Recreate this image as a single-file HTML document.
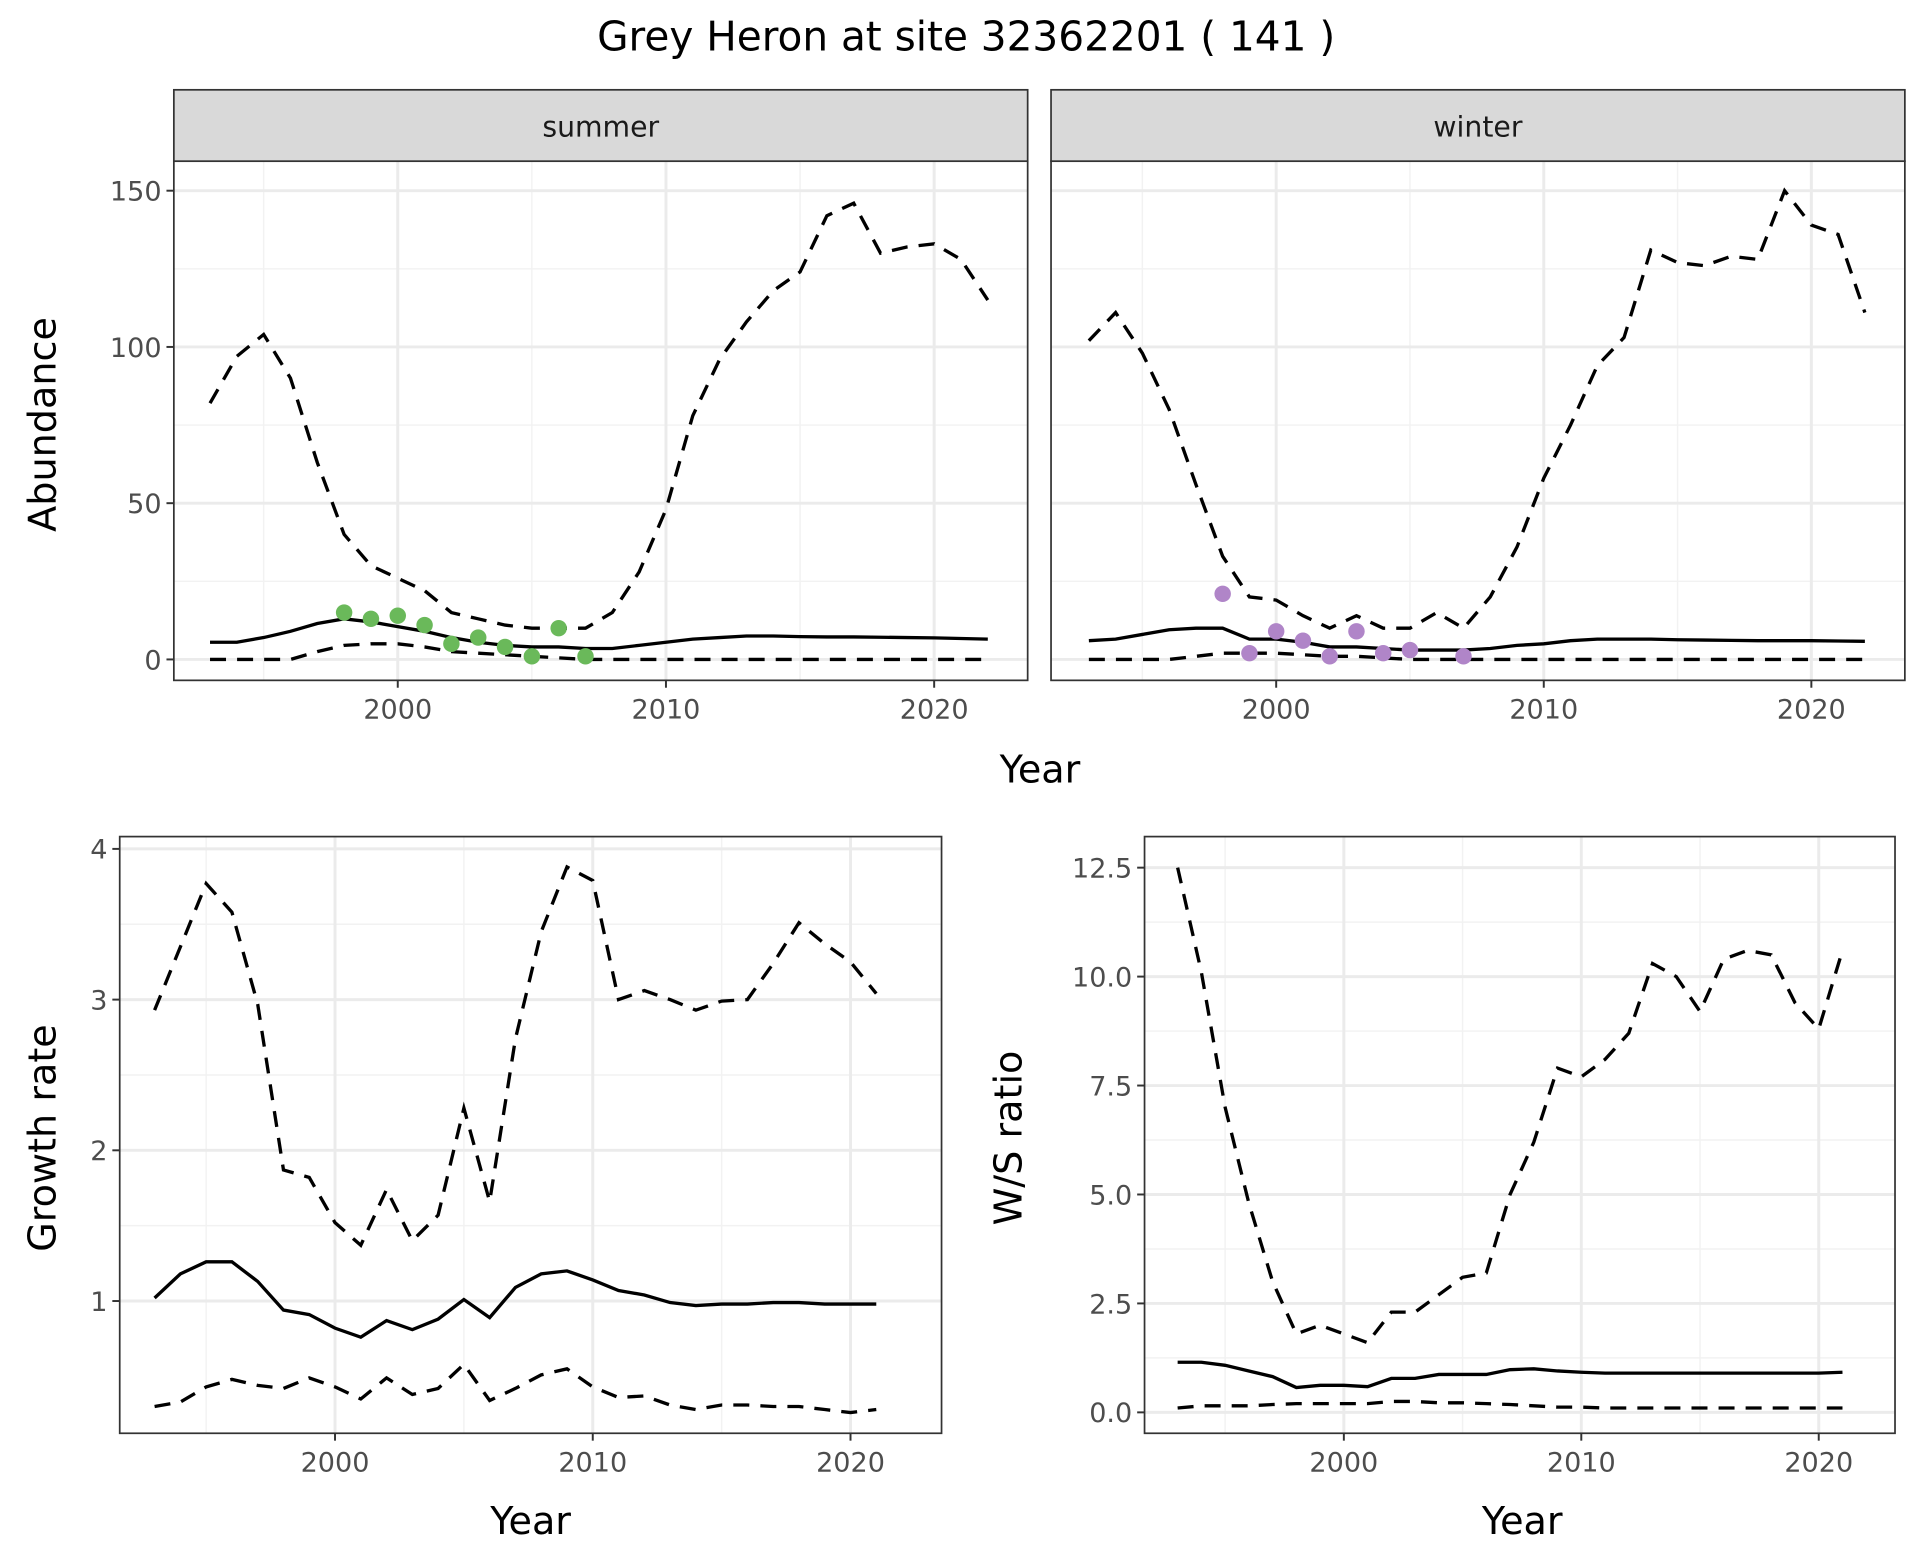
<!DOCTYPE html>
<html><head><meta charset="utf-8"><style>html,body{margin:0;padding:0;background:#fff}svg{display:block}</style></head>
<body>
<svg id="s" xmlns="http://www.w3.org/2000/svg" width="1920" height="1560" viewBox="0 0 1560 1268" font-family="'DejaVu Sans','Liberation Sans',sans-serif">
<rect width="1560" height="1268" fill="#fff"/>
<text x="785" y="41" font-size="33" text-anchor="middle" fill="#000">Grey Heron at site 32362201 ( 141 )</text>
<g id="g"></g>
</svg>
<script>
const g=document.getElementById('g');let h='';
function yrs(a,b){let r=[];for(let y=a;y<=b;y++)r.push(y);return r;}
function panel(o){
 const X=v=>o.x0+(v-2000)*o.sx, Y=v=>o.y0-v*o.sy;
 h+=`<rect x="${o.L}" y="${o.T}" width="${o.R-o.L}" height="${o.B-o.T}" fill="#fff"/>`;
 o.xminor.forEach(v=>h+=`<line x1="${X(v)}" x2="${X(v)}" y1="${o.T}" y2="${o.B}" stroke="#f2f2f2" stroke-width="1.2"/>`);
 o.yminor.forEach(v=>h+=`<line y1="${Y(v)}" y2="${Y(v)}" x1="${o.L}" x2="${o.R}" stroke="#f2f2f2" stroke-width="1.2"/>`);
 [2000,2010,2020].forEach(v=>h+=`<line x1="${X(v)}" x2="${X(v)}" y1="${o.T}" y2="${o.B}" stroke="#ebebeb" stroke-width="2.4"/>`);
 o.yt.forEach(v=>h+=`<line y1="${Y(v[0])}" y2="${Y(v[0])}" x1="${o.L}" x2="${o.R}" stroke="#ebebeb" stroke-width="2.4"/>`);
 const line=(ys,arr,d)=>{h+=`<polyline fill="none" stroke="#000" stroke-width="2.7" ${d?'stroke-dasharray="13,9"':''} points="${arr.map((v,i)=>X(ys[i])+','+Y(v)).join(' ')}"/>`;};
 line(o.ys,o.up,1);line(o.ys,o.lo,1);line(o.ys,o.mean,0);
 (o.pts||[]).forEach(p=>h+=`<circle cx="${X(p[0])}" cy="${Y(p[1])}" r="6.7" fill="${o.pc}"/>`);
 h+=`<rect x="${o.L}" y="${o.T}" width="${o.R-o.L}" height="${o.B-o.T}" fill="none" stroke="#333" stroke-width="1.4"/>`;
 [2000,2010,2020].forEach(v=>{h+=`<line x1="${X(v)}" x2="${X(v)}" y1="${o.B}" y2="${o.B+6}" stroke="#333" stroke-width="1.6"/><text x="${X(v)}" y="${o.B+31}" font-size="22" fill="#4d4d4d" text-anchor="middle">${v}</text>`;});
 if(o.ylab) o.yt.forEach(v=>{h+=`<line x1="${o.L-6}" x2="${o.L}" y1="${Y(v[0])}" y2="${Y(v[0])}" stroke="#333" stroke-width="1.6"/><text x="${o.L-10}" y="${Y(v[0])+8}" font-size="22" fill="#4d4d4d" text-anchor="end">${v[1]}</text>`;});
 if(o.strip){h+=`<rect x="${o.L}" y="73" width="${o.R-o.L}" height="58" fill="#d9d9d9" stroke="#333" stroke-width="1.4"/><text x="${(o.L+o.R)/2}" y="111" font-size="23" fill="#1a1a1a" text-anchor="middle">${o.strip}</text>`;}
}
const Y1=yrs(1993,2022);
const ab={yt:[[0,'0'],[50,'50'],[100,'100'],[150,'150']],yminor:[25,75,125],y0:536,sy:2.54,T:131,B:553,ys:Y1};
panel(Object.assign({},ab,{L:141,R:835,x0:323,sx:21.8,xminor:[1995,2005,2015],ylab:1,strip:'summer',pc:'#6ab95a',
 mean:[5.5,5.5,7,9,11.5,13,12,10.5,9,7,5.5,4.5,4,4,3.5,3.5,4.5,5.5,6.5,7,7.5,7.5,7.3,7.2,7.2,7.1,7,6.9,6.7,6.5],
 up:[82,97,104,90,63,40,30,26,22,15,13,11,10,10,10,15,28,48,78,96,108,118,124,142,146,130,132,133,128,115],
 lo:[0,0,0,0,2.5,4.5,5,5,4,2.5,2,1.5,1,0.5,0,0,0,0,0,0,0,0,0,0,0,0,0,0,0,0],
 pts:[[1998,15],[1999,13],[2000,14],[2001,11],[2002,5],[2003,7],[2004,4],[2005,1],[2006,10],[2007,1]]}));
panel(Object.assign({},ab,{L:854,R:1548,x0:1037,sx:21.75,xminor:[1995,2005,2015],ylab:0,strip:'winter',pc:'#b085c8',
 mean:[6,6.5,8,9.5,10,10,6.5,6.5,5.5,4,4,3.5,3,3,3,3.5,4.5,5,6,6.5,6.5,6.5,6.3,6.2,6.1,6,6,6,5.9,5.8],
 up:[102,111,98,80,56,33,20,19,14,10,14,10,10,15,10,20,36,58,75,94,103,131,127,126,129,128,150,139,136,111],
 lo:[0,0,0,0,1,2,2,2,1.5,1,1,0.5,0,0,0,0,0,0,0,0,0,0,0,0,0,0,0,0,0,0],
 pts:[[1998,21],[1999,2],[2000,9],[2001,6],[2002,1],[2003,9],[2004,2],[2005,3],[2007,1]]}));
const Y2=yrs(1993,2021);
panel({L:97,R:765,T:680,B:1165,x0:272,sx:20.95,y0:1180,sy:122.5,xminor:[1995,2005,2015],yminor:[1.5,2.5,3.5],ylab:1,
 yt:[[1,'1'],[2,'2'],[3,'3'],[4,'4']],ys:Y2,
 mean:[1.02,1.18,1.26,1.26,1.13,0.94,0.91,0.82,0.76,0.87,0.81,0.88,1.01,0.89,1.09,1.18,1.2,1.14,1.07,1.04,0.99,0.97,0.98,0.98,0.99,0.99,0.98,0.98,0.98],
 up:[2.93,3.35,3.77,3.58,2.97,1.87,1.82,1.52,1.37,1.74,1.40,1.57,2.28,1.66,2.74,3.45,3.88,3.79,3.00,3.06,3.00,2.93,2.99,3.00,3.24,3.51,3.37,3.25,3.04],
 lo:[0.3,0.33,0.43,0.48,0.44,0.42,0.49,0.43,0.35,0.49,0.38,0.42,0.58,0.34,0.42,0.51,0.55,0.43,0.36,0.37,0.31,0.28,0.31,0.31,0.3,0.3,0.28,0.26,0.28]});
panel({L:930,R:1540,T:680,B:1165,x0:1092,sx:19.3,y0:1148,sy:35.42,xminor:[1995,2005,2015],yminor:[1.25,3.75,6.25,8.75,11.25],ylab:1,
 yt:[[0,'0.0'],[2.5,'2.5'],[5,'5.0'],[7.5,'7.5'],[10,'10.0'],[12.5,'12.5']],ys:Y2,
 mean:[1.15,1.15,1.08,0.95,0.82,0.57,0.62,0.62,0.59,0.78,0.78,0.87,0.87,0.87,0.98,1.0,0.95,0.92,0.9,0.9,0.9,0.9,0.9,0.9,0.9,0.9,0.9,0.9,0.92],
 up:[12.5,10.1,7.0,4.8,3.0,1.8,2.0,1.8,1.6,2.3,2.3,2.7,3.1,3.2,5.0,6.2,7.9,7.7,8.1,8.7,10.3,10.0,9.2,10.4,10.6,10.5,9.4,8.8,10.6],
 lo:[0.1,0.15,0.15,0.15,0.18,0.2,0.2,0.2,0.2,0.25,0.25,0.22,0.22,0.2,0.18,0.15,0.12,0.12,0.1,0.1,0.1,0.1,0.1,0.1,0.1,0.1,0.1,0.1,0.1]});
h+=`<text x="845" y="636" font-size="31" text-anchor="middle">Year</text>`;
h+=`<text x="431" y="1247" font-size="31" text-anchor="middle">Year</text>`;
h+=`<text x="1237" y="1247" font-size="31" text-anchor="middle">Year</text>`;
h+=`<text transform="translate(45,345) rotate(-90)" font-size="31" text-anchor="middle">Abundance</text>`;
h+=`<text transform="translate(45,925) rotate(-90)" font-size="31" text-anchor="middle">Growth rate</text>`;
h+=`<text transform="translate(830,925) rotate(-90)" font-size="31" text-anchor="middle">W/S ratio</text>`;
g.innerHTML=h;
</script>
</body></html>
